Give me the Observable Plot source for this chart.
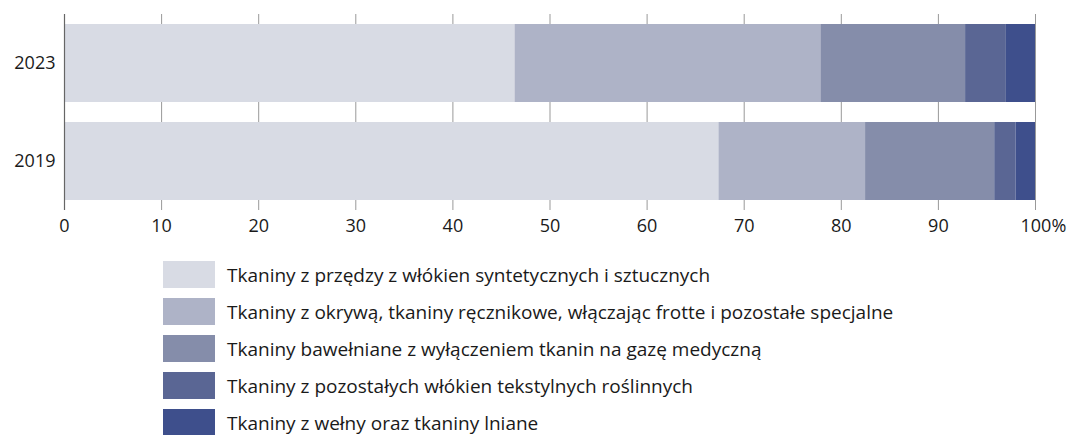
<!DOCTYPE html>
<html><head><meta charset="utf-8">
<script src="https://cdn.jsdelivr.net/npm/d3@7"></script>
<script src="https://cdn.jsdelivr.net/npm/@observablehq/plot@0.6"></script>
<style>
body{margin:0;background:#fff;font-family:"Open Sans",sans-serif;}
#legend{margin-left:163px;margin-top:21px;}
.row{display:flex;align-items:center;height:27px;margin-bottom:10px;}
.sw{width:52px;height:27px;margin-right:12px;flex:none;}
.lb{font-size:19px;color:#1a1a1a;white-space:nowrap;letter-spacing:0px;}
</style></head><body>
<div id="chart"></div>
<div id="legend"></div>
<script>
const years = ["2023", "2019"];
const categories = [
  "Tkaniny z przędzy z włókien syntetycznych i sztucznych",
  "Tkaniny z okrywą, tkaniny ręcznikowe, włączając frotte i pozostałe specjalne",
  "Tkaniny bawełniane z wyłączeniem tkanin na gazę medyczną",
  "Tkaniny z pozostałych włókien tekstylnych roślinnych",
  "Tkaniny z wełny oraz tkaniny lniane"
];
const values2023 = [46.4, 31.5, 14.9, 4.2, 3.0];
const values2019 = [67.4, 15.1, 13.3, 2.2, 2.0];
const colors = ["#d8dbe4", "#aeb3c7", "#858daa", "#5a6694", "#3e4f8c"];
const xTicks = [0, 10, 20, 30, 40, 50, 60, 70, 80, 90, 100];

const data = [];
categories.forEach((c, i) => {
  data.push({year: "2023", cat: c, value: values2023[i]});
  data.push({year: "2019", cat: c, value: values2019[i]});
});

const chart = Plot.plot({
  width: 1069,
  height: 240,
  marginLeft: 64,
  marginRight: 34,
  marginTop: 14,
  marginBottom: 30,
  style: {fontFamily: "Open Sans, sans-serif", fontSize: "18px", color: "#1a1a1a"},
  x: {domain: [0, 100]},
  y: {domain: years, paddingInner: 0.204, paddingOuter: 0.1},
  color: {domain: categories, range: colors},
  marks: [
    Plot.gridX(xTicks, {stroke: "#999", strokeOpacity: 1, strokeWidth: 1}),
    Plot.barX(data, Plot.stackX({x: "value", y: "year", fill: "cat", order: categories})),
    Plot.ruleX([0], {stroke: "#666", strokeWidth: 1.2}),
    Plot.axisX(xTicks.filter(d => d !== 100), {tickSize: 0, tickPadding: 9, label: null, fontSize: 18}),
    Plot.axisX([100], {tickSize: 0, tickPadding: 9, label: null, fontSize: 18, tickFormat: d => d + "%", textAnchor: "start", dx: -15}),
    Plot.axisY({tickSize: 0, tickPadding: 9, label: null, fontSize: 18})
  ]
});
document.getElementById("chart").appendChild(chart);

const leg = document.getElementById("legend");
categories.forEach((c, i) => {
  const r = document.createElement("div");
  r.className = "row";
  r.innerHTML = `<div class="sw" style="background:${colors[i]}"></div><div class="lb"></div>`;
  r.querySelector(".lb").textContent = c;
  leg.appendChild(r);
});
</script>
</body></html>
